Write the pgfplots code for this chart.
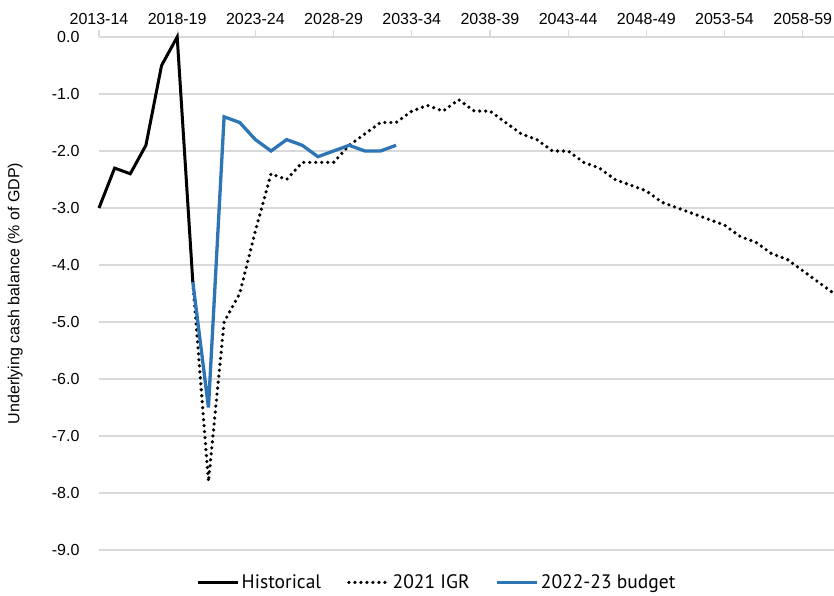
\documentclass[border=0pt]{standalone}
\usepackage{pgfplots}
\pgfplotsset{compat=1.18}
\usepackage{fontspec}
\setmainfont{Liberation Sans}
\newfontfamily\legfont{PT Sans}
\definecolor{budgetblue}{RGB}{46,117,182}
\definecolor{gridgrey}{RGB}{217,217,217}
\begin{document}
\begin{tikzpicture}
\begin{axis}[
  scale only axis,
  width=735pt, height=513pt,
  xmin=0, xmax=47, ymin=-9, ymax=0,
  clip=false,
  axis line style={draw=none},
  xtick={0,5,...,45},
  xticklabels={2013-14,2018-19,2023-24,2028-29,2033-34,2038-39,2043-44,2048-49,2053-54,2058-59},
  xtick pos=upper, xticklabel pos=upper,
  tick align=outside,
  major tick length=7pt,
  x tick style={gridgrey, line width=1.2pt},
  xticklabel style={font=\fontsize{16}{19}\selectfont, yshift=2pt},
  ytick={-9,-8,...,0},
  yticklabels={-9.0,-8.0,-7.0,-6.0,-5.0,-4.0,-3.0,-2.0,-1.0,0.0},
  y tick style={draw=none},
  yticklabel style={font=\fontsize{16}{19}\selectfont, xshift=-9pt},
  ymajorgrids,
  grid style={gridgrey, line width=1.3pt},
  ylabel={Underlying cash balance (\% of GDP)},
  ylabel style={at={(axis description cs:-0.114,0.5)}, anchor=center, font=\fontsize{16}{19}\selectfont},
  legend columns=3,
  legend style={at={(0.46,-0.04)}, anchor=north, draw=none, fill=none,
    font=\legfont\fontsize{19.5}{22}\selectfont,
    /tikz/every even column/.append style={column sep=24pt}},
  legend image code/.code={\draw[#1] (0pt,0pt) -- (40pt,0pt);},
]
\addplot[black, line width=3pt] coordinates {
(0,-3.0) (1,-2.3) (2,-2.4) (3,-1.9) (4,-0.5) (5,0.0) (6,-4.3)
};
\addlegendentry{Historical}
\addplot[black, line width=3.6pt, line cap=round, dash pattern=on 0pt off 6pt] coordinates {
(6,-4.3) (7,-7.8) (8,-5.0) (9,-4.5) (10,-3.4) (11,-2.4) (12,-2.5) (13,-2.2) (14,-2.2) (15,-2.2)
(16,-1.9) (17,-1.7) (18,-1.5) (19,-1.5) (20,-1.3) (21,-1.2) (22,-1.3) (23,-1.1) (24,-1.3) (25,-1.3)
(26,-1.5) (27,-1.7) (28,-1.8) (29,-2.0) (30,-2.0) (31,-2.2) (32,-2.3) (33,-2.5) (34,-2.6) (35,-2.7)
(36,-2.9) (37,-3.0) (38,-3.1) (39,-3.2) (40,-3.3) (41,-3.5) (42,-3.6) (43,-3.8) (44,-3.9) (45,-4.1)
(46,-4.3) (47,-4.5)
};
\addlegendentry{2021 IGR}
\addplot[budgetblue, line width=3.3pt] coordinates {
(6,-4.3) (7,-6.5) (8,-1.4) (9,-1.5) (10,-1.8) (11,-2.0) (12,-1.8) (13,-1.9) (14,-2.1) (15,-2.0)
(16,-1.9) (17,-2.0) (18,-2.0) (19,-1.9)
};
\addlegendentry{2022-23 budget}
\end{axis}
\pgfresetboundingbox
\path (-99pt,-46pt) rectangle (735pt,550pt);
\end{tikzpicture}
\end{document}
